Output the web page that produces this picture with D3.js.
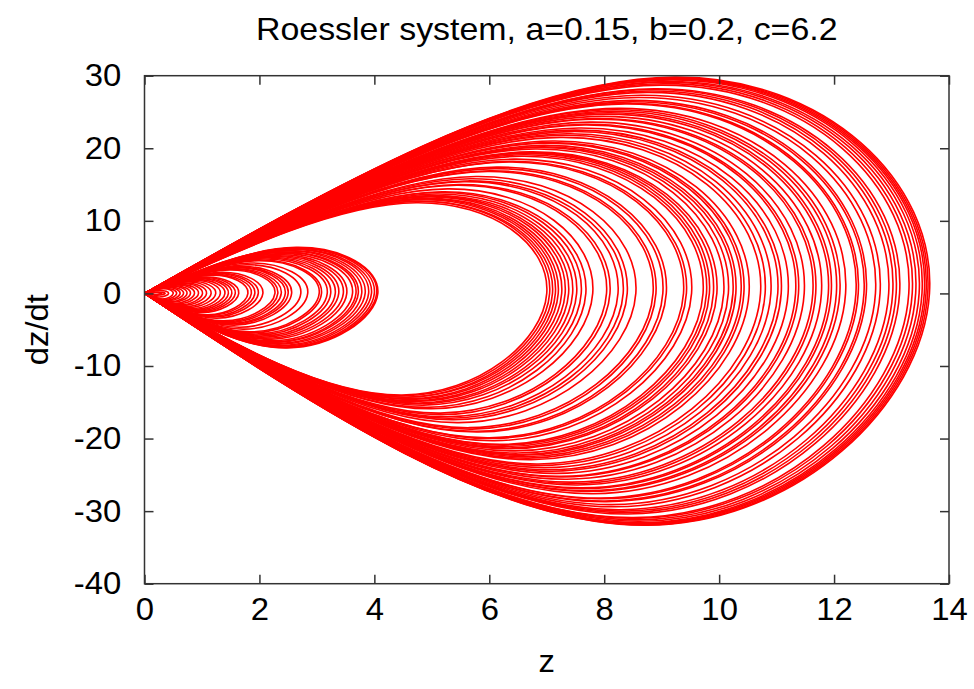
<!doctype html>
<html>
<head>
  <meta charset="utf-8">
  <script src="https://d3js.org/d3.v7.min.js"></script>
  <style>
    body { margin: 0; background: #fff; }
    text { font-family: "Liberation Sans", Arial, sans-serif; fill: #000; }
  </style>
</head>
<body>
<script>
  // each excursion of the trajectory leaves (0,0), tops out, crosses dz/dt=0 at its largest z,
  // bottoms out and comes back to (0,0). values.
  var loopRight = [
    0.30, 0.36, 0.42,
    0.50, 0.56, 0.62, 0.68, 0.74, 0.80, 0.87, 0.94, 1.01, 1.08,
    1.16, 1.24, 1.32, 1.40, 1.46, 1.52, 1.58, 1.64, 1.80, 1.86,
    1.92, 1.98, 2.06, 2.27, 2.32, 2.38, 2.45, 2.50, 2.56, 2.72,
    2.84, 3.04, 3.08, 3.18, 3.24, 3.32, 3.38, 3.46, 3.52, 3.62,
    3.68, 3.72, 3.78, 3.84, 3.90, 3.95, 4.00, 4.04, 4.06,
    7.00, 7.05, 7.10, 7.15, 7.20, 7.26, 7.32, 7.38, 7.45, 7.52,
    7.60, 7.68, 7.80, 8.04, 8.10, 8.24, 8.33, 8.40, 8.55, 8.85,
    8.90, 9.02, 9.08, 9.38, 9.43, 9.52, 9.72, 9.78, 9.83, 9.90,
    9.96, 10.08, 10.16, 10.24, 10.29, 10.38, 10.43, 10.52, 10.72, 10.80,
    10.90, 11.02, 11.08, 11.20, 11.33, 11.38, 11.48, 11.63, 11.68, 11.78,
    11.90, 11.95, 12.04, 12.10, 12.20, 12.38, 12.42, 12.52, 12.56, 12.72,
    12.80, 12.95, 13.02, 13.08, 13.14, 13.30, 13.36, 13.42, 13.48, 13.53,
    13.57, 13.60, 13.63, 13.66
  ];
  var loopTop = [
    0.12, 0.20, 0.40,
    0.66, 0.72, 0.82, 0.88, 0.99, 1.05, 1.16, 1.24, 1.36, 1.44,
    1.57, 1.67, 1.81, 1.90, 2.02, 2.08, 2.19, 2.26, 2.52, 2.59,
    2.71, 2.78, 2.92, 3.22, 3.33, 3.41, 3.55, 3.60, 3.73, 3.96,
    4.20, 4.50, 4.60, 4.74, 4.88, 4.98, 5.12, 5.23, 5.37, 5.51,
    5.66, 5.70, 5.84, 5.91, 6.06, 6.11, 6.24, 6.28, 6.34,
    12.5, 12.7, 12.7, 12.9, 13.0, 13.1, 13.3, 13.4, 13.5, 13.7,
    13.9, 14.0, 14.4, 14.9, 15.0, 15.4, 15.5, 15.8, 16.1, 16.8,
    16.9, 17.2, 17.4, 18.1, 18.2, 18.5, 18.9, 19.1, 19.3, 19.4,
    19.5, 19.9, 20.1, 20.2, 20.4, 20.7, 20.8, 21.0, 21.5, 21.8,
    22.0, 22.3, 22.5, 22.8, 23.2, 23.3, 23.6, 24.0, 24.1, 24.4,
    24.7, 24.9, 25.1, 25.3, 25.5, 26.1, 26.2, 26.4, 26.6, 27.0,
    27.3, 27.7, 27.9, 28.1, 28.2, 28.7, 28.9, 29.1, 29.2, 29.4,
    29.5, 29.6, 29.7, 29.8
  ];
  var loopTopZ = [
    0.20, 0.23, 0.27,
    0.33, 0.36, 0.40, 0.44, 0.48, 0.52, 0.57, 0.61, 0.66, 0.70,
    0.75, 0.81, 0.86, 0.91, 0.95, 0.99, 1.03, 1.07, 1.17, 1.21,
    1.25, 1.29, 1.34, 1.48, 1.51, 1.55, 1.59, 1.63, 1.66, 1.77,
    1.85, 1.98, 2.00, 2.07, 2.11, 2.16, 2.20, 2.25, 2.29, 2.35,
    2.39, 2.42, 2.46, 2.50, 2.54, 2.57, 2.60, 2.63, 2.64,
    4.73, 4.76, 4.79, 4.83, 4.86, 4.90, 4.94, 4.98, 5.03, 5.08,
    5.13, 5.18, 5.27, 5.43, 5.47, 5.56, 5.62, 5.67, 5.77, 5.97,
    6.01, 6.09, 6.13, 6.33, 6.37, 6.43, 6.56, 6.60, 6.64, 6.68,
    6.72, 6.80, 6.86, 6.91, 6.95, 7.01, 7.04, 7.10, 7.24, 7.29,
    7.36, 7.44, 7.48, 7.56, 7.65, 7.68, 7.75, 7.85, 7.88, 7.95,
    8.03, 8.07, 8.13, 8.17, 8.24, 8.36, 8.38, 8.45, 8.48, 8.59,
    8.64, 8.74, 8.79, 8.83, 8.87, 8.98, 9.02, 9.06, 9.10, 9.13,
    9.16, 9.18, 9.20, 9.22
  ];
  var loopBottom = [
    -0.15, -0.24, -0.50,
    -0.76, -0.83, -0.95, -1.02, -1.14, -1.21, -1.35, -1.44, -1.58, -1.67,
    -1.83, -1.94, -2.10, -2.21, -2.34, -2.42, -2.55, -2.63, -2.94, -3.02,
    -3.16, -3.25, -3.42, -3.78, -3.90, -4.00, -4.15, -4.22, -4.37, -4.66,
    -4.92, -5.30, -5.41, -5.60, -5.74, -5.88, -6.03, -6.18, -6.33, -6.52,
    -6.68, -6.75, -6.89, -7.00, -7.16, -7.25, -7.38, -7.45, -7.52,
    -14.0, -14.1, -14.3, -14.3, -14.5, -14.6, -14.8, -14.9, -15.1, -15.2,
    -15.4, -15.7, -15.9, -16.5, -16.7, -17.0, -17.2, -17.4, -17.8, -18.5,
    -18.7, -19.0, -19.1, -19.9, -20.0, -20.3, -20.8, -20.9, -21.1, -21.3,
    -21.4, -21.7, -22.0, -22.2, -22.3, -22.5, -22.7, -22.9, -23.5, -23.7,
    -24.0, -24.3, -24.5, -24.8, -25.2, -25.3, -25.6, -26.0, -26.2, -26.4,
    -26.8, -26.9, -27.2, -27.3, -27.6, -28.2, -28.3, -28.6, -28.7, -29.1,
    -29.4, -29.8, -30.0, -30.2, -30.4, -30.9, -31.0, -31.2, -31.4, -31.6,
    -31.7, -31.8, -31.9, -31.95
  ];
  var loopBottomZ = [
    0.18, 0.22, 0.26,
    0.31, 0.34, 0.38, 0.41, 0.45, 0.49, 0.53, 0.57, 0.62, 0.66,
    0.71, 0.76, 0.81, 0.85, 0.89, 0.93, 0.96, 1.00, 1.10, 1.13,
    1.17, 1.21, 1.26, 1.38, 1.42, 1.45, 1.49, 1.53, 1.56, 1.66,
    1.73, 1.85, 1.88, 1.94, 1.98, 2.03, 2.06, 2.11, 2.15, 2.21,
    2.24, 2.27, 2.31, 2.34, 2.38, 2.41, 2.44, 2.46, 2.48,
    4.48, 4.51, 4.54, 4.58, 4.61, 4.65, 4.68, 4.72, 4.77, 4.81,
    4.86, 4.92, 4.99, 5.15, 5.18, 5.27, 5.33, 5.38, 5.47, 5.66,
    5.70, 5.77, 5.81, 6.00, 6.04, 6.09, 6.22, 6.26, 6.29, 6.34,
    6.37, 6.45, 6.50, 6.55, 6.59, 6.64, 6.68, 6.73, 6.86, 6.91,
    6.98, 7.05, 7.09, 7.17, 7.25, 7.28, 7.35, 7.44, 7.48, 7.54,
    7.62, 7.65, 7.71, 7.74, 7.81, 7.92, 7.95, 8.01, 8.04, 8.14,
    8.19, 8.29, 8.33, 8.37, 8.41, 8.51, 8.55, 8.59, 8.63, 8.66,
    8.68, 8.70, 8.72, 8.74
  ];

  var xTicks = [0, 2, 4, 6, 8, 10, 12, 14];
  var yTicks = [-40, -30, -20, -10, 0, 10, 20, 30];

  var width = 974, height = 689;
  var plotLeft = 144.5, plotRight = 949, plotTop = 75.7, plotBottom = 583.7;
  var stretch = "scale(1.06,1)"; // the original output is a bit wider than tall

  var x = d3.scaleLinear().domain([0, 14]).range([plotLeft, plotRight]);
  var y = d3.scaleLinear().domain([-40, 30]).range([plotBottom, plotTop]);

  var svg = d3.select("body").append("svg")
    .attr("width", width)
    .attr("height", height);

  svg.append("clipPath").attr("id", "plotclip")
    .append("rect")
    .attr("x", plotLeft).attr("y", plotTop)
    .attr("width", plotRight - plotLeft).attr("height", plotBottom - plotTop);

  // build every loop from its read-off points, the smooth curve comes from d3
  var loops = loopRight.map(function(r, i) {
    return [[0, 0], [loopTopZ[i], loopTop[i]], [r, 0], [loopBottomZ[i], loopBottom[i]], [0, 0]];
  });

  var line = d3.line()
    .x(function(d) { return x(d[0]); })
    .y(function(d) { return y(d[1]); })
    .curve(d3.curveNatural);

  svg.append("g")
    .attr("clip-path", "url(#plotclip)")
    .selectAll("path")
    .data(loops)
    .enter()
      .append("path")
      .attr("d", line)
      .attr("fill", "none")
      .attr("stroke", "#ff0000")
      .attr("stroke-width", 1.6);

  // axes, ticks pointing inwards on all four sides like gnuplot
  var tickLen = 9;
  var plain = function(d) { return String(d); }; // hyphen minus, not the unicode one
  var axisB = d3.axisBottom(x).tickValues(xTicks).tickFormat(plain).tickSizeInner(-tickLen).tickSizeOuter(0).tickPadding(14);
  var axisT = d3.axisTop(x).tickValues(xTicks).tickSizeInner(-tickLen).tickSizeOuter(0).tickFormat("");
  var axisL = d3.axisLeft(y).tickValues(yTicks).tickFormat(plain).tickSizeInner(-tickLen).tickSizeOuter(0).tickPadding(22);
  var axisR = d3.axisRight(y).tickValues(yTicks).tickSizeInner(-tickLen).tickSizeOuter(0).tickFormat("");

  function styleAxis(g) {
    g.select(".domain").remove();
    g.selectAll(".tick line").attr("stroke", "#333").attr("stroke-width", 1.5);
    g.selectAll(".tick text")
      .attr("font-size", 31)
      .attr("font-family", "'Liberation Sans', Arial, sans-serif")
      .attr("fill", "#000");
  }

  svg.append("g").attr("transform", "translate(0," + plotBottom + ")").call(axisB).call(styleAxis)
    .selectAll(".tick text").attr("transform", stretch);
  svg.append("g").attr("transform", "translate(0," + plotTop + ")").call(axisT).call(styleAxis);
  svg.append("g").attr("transform", "translate(" + plotLeft + ",0)").call(axisL).call(styleAxis)
    .selectAll(".tick text").attr("transform", stretch);
  svg.append("g").attr("transform", "translate(" + plotRight + ",0)").call(axisR).call(styleAxis);

  // frame
  svg.append("rect")
    .attr("x", plotLeft).attr("y", plotTop)
    .attr("width", plotRight - plotLeft).attr("height", plotBottom - plotTop)
    .attr("fill", "none")
    .attr("stroke", "#333")
    .attr("stroke-width", 1.5);

  // title and axis labels
  svg.append("text")
    .attr("transform", "translate(" + (plotLeft + plotRight) / 2 + ",40) " + stretch)
    .attr("text-anchor", "middle")
    .attr("font-size", 32)
    .text("Roessler system, a=0.15, b=0.2, c=6.2");

  svg.append("text")
    .attr("transform", "translate(" + (plotLeft + plotRight) / 2 + ",672) " + stretch)
    .attr("text-anchor", "middle")
    .attr("font-size", 31)
    .text("z");

  svg.append("text")
    .attr("transform", "translate(48," + (plotTop + plotBottom) / 2 + ") rotate(-90) " + stretch)
    .attr("text-anchor", "middle")
    .attr("font-size", 31)
    .text("dz/dt");
</script>
</body>
</html>
